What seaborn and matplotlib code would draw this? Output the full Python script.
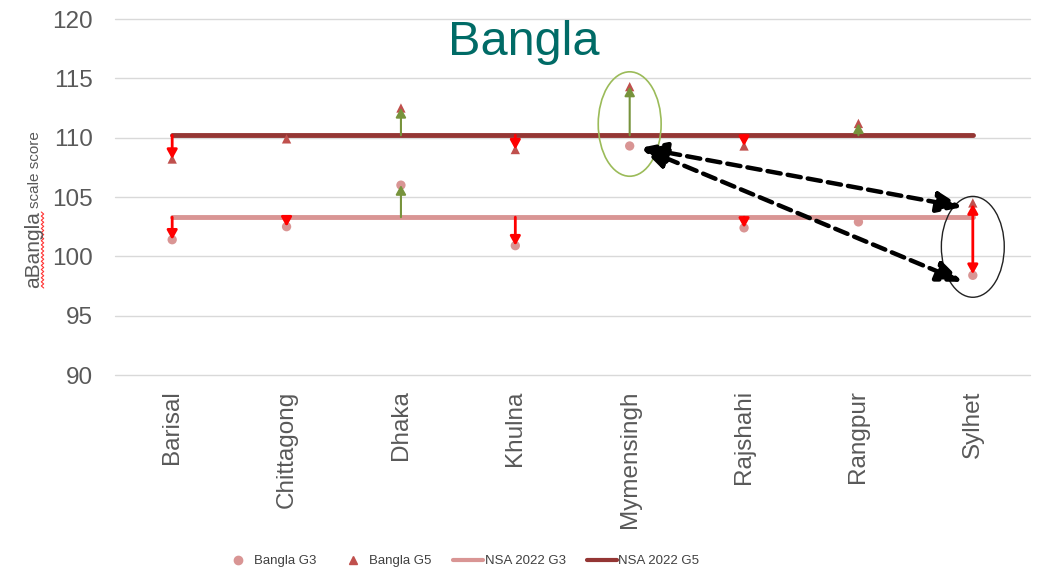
import numpy as np
import pandas as pd
import matplotlib
matplotlib.use("Agg")
import matplotlib.pyplot as plt
from matplotlib.patches import Ellipse
from matplotlib.lines import Line2D
import seaborn as sns

# ---- data -------------------------------------------------------------
regions = ["Barisal", "Chittagong", "Dhaka", "Khulna",
           "Mymensingh", "Rajshahi", "Rangpur", "Sylhet"]
bangla_g3 = [101.4, 102.5, 106.0, 100.9, 109.3, 102.4, 102.9, 98.4]
bangla_g5 = [108.2, 109.9, 112.5, 109.0, 114.3, 109.3, 111.2, 104.5]
nsa_g3 = 103.3
nsa_g5 = 110.2
yticks = [90, 95, 100, 105, 110, 115, 120]

# gaps from the national average that get an arrow: (region index, start, end, colour)
gap_arrows = [
    (0, nsa_g5, bangla_g5[0], "red"),
    (0, nsa_g3, bangla_g3[0], "red"),
    (1, nsa_g3, bangla_g3[1], "red"),
    (2, nsa_g5, bangla_g5[2], "green"),
    (2, nsa_g3, bangla_g3[2], "green"),
    (3, nsa_g5, bangla_g5[3], "red"),
    (3, nsa_g3, bangla_g3[3], "red"),
    (4, nsa_g5, bangla_g5[4], "green"),
    (5, nsa_g5, bangla_g5[5], "red"),
    (5, nsa_g3, bangla_g3[5], "red"),
    (6, nsa_g5, bangla_g5[6], "green"),
]

df = pd.DataFrame({"region": regions, "G3": bangla_g3, "G5": bangla_g5,
                   "NSA_G3": [nsa_g3] * len(regions),
                   "NSA_G5": [nsa_g5] * len(regions)})

# ---- style ------------------------------------------------------------
sns.set_style("white")
plt.rcParams["font.family"] = ["Liberation Sans", "DejaVu Sans"]

C_G3 = "#D99594"
C_G5 = "#C0504D"
C_NSA3 = "#D99594"
C_NSA5 = "#943634"
C_RED = "#FF0000"
C_GREEN = "#77933C"
C_TXT = "#595959"

fig = plt.figure(figsize=(10.43, 5.72), dpi=100)
ax = fig.add_axes([115 / 1043, 1 - 375 / 572, (1030 - 115) / 1043, (375 - 19) / 572])

x = np.arange(len(regions))

sns.lineplot(x=x, y=df["NSA_G3"], ax=ax, color=C_NSA3, lw=3.5,
             solid_capstyle="round", label="NSA 2022 G3", legend=False, zorder=2)
sns.lineplot(x=x, y=df["NSA_G5"], ax=ax, color=C_NSA5, lw=3.5,
             solid_capstyle="round", label="NSA 2022 G5", legend=False, zorder=2)
sns.scatterplot(x=x, y=df["G3"], ax=ax, marker="o", s=45, color=C_G3,
                edgecolor="none", label="Bangla G3", legend=False, zorder=3)
sns.scatterplot(x=x, y=df["G5"], ax=ax, marker="^", s=45, color=C_G5,
                edgecolor="none", label="Bangla G5", legend=False, zorder=3)

HEAD = "-|>,head_width=0.25,head_length=0.45"
HEAD2 = "<|-|>,head_width=0.25,head_length=0.45"

# arrows showing the gap to the national average
for i, y0, y1, col in gap_arrows:
    c = C_RED if col == "red" else C_GREEN
    lw = 2.0 if col == "red" else 1.5
    ax.annotate("", xy=(i, y1), xytext=(i, y0),
                arrowprops=dict(arrowstyle=HEAD, color=c, lw=lw,
                                shrinkA=0, shrinkB=0, mutation_scale=12),
                zorder=4)

# Sylhet: grade 5 to grade 3 spread
ax.annotate("", xy=(7, bangla_g3[7] + 0.1), xytext=(7, bangla_g5[7] - 0.1),
            arrowprops=dict(arrowstyle=HEAD2, color=C_RED, lw=2.0,
                            shrinkA=0, shrinkB=0, mutation_scale=12),
            zorder=4)

# highlight ellipses
ax.add_patch(Ellipse((4, 111.15), 0.55, 8.8, fill=False, ec="#9BBB59", lw=1.2, zorder=5))
ax.add_patch(Ellipse((7, 100.8), 0.55, 8.5, fill=False, ec="#222222", lw=1.0, zorder=5))

# dashed comparison arrows between Mymensingh and Sylhet
for (xe, ye) in [(6.91, 104.15), (6.91, 97.85)]:
    ax.annotate("", xy=(xe, ye), xytext=(4.1, 109.15),
                arrowprops=dict(arrowstyle="<|-|>,head_width=0.45,head_length=1.1",
                                color="black", lw=3.2, ls=(0, (3, 1.6)),
                                shrinkA=0, shrinkB=0, mutation_scale=14),
                zorder=6)

# ---- axes -------------------------------------------------------------
ax.set_xlim(-0.5, len(regions) - 0.5)
ax.set_ylim(90, 120)
ax.set_yticks(yticks)
ax.set_yticklabels([str(v) for v in yticks], fontsize=17.5, color=C_TXT)
ax.set_xticks(x)
ax.set_xticklabels(regions, rotation=90, fontsize=17.5, color=C_TXT)
ax.tick_params(axis="both", length=0)
ax.tick_params(axis="y", pad=16)
ax.tick_params(axis="x", pad=11)
ax.yaxis.grid(True, color="#D9D9D9", lw=1.0)
for gl in ax.get_ygridlines():
    gl.set_clip_on(False)
ax.set_axisbelow(True)
for s in ax.spines.values():
    s.set_visible(False)
ax.set_xlabel("")
ax.set_ylabel("")

# title
fig.text(524 / 1043, 1 - 55 / 572, "Bangla", fontsize=35, color="#006B66",
         ha="center", va="baseline")

# y-axis label in two sizes
fig.text(39 / 1043, 1 - 288 / 572, "aBangla", fontsize=15, color=C_TXT,
         rotation=90, rotation_mode="anchor", ha="left", va="baseline")
fig.text(39 / 1043, 1 - 208 / 572, "scale score", fontsize=11, color=C_TXT,
         rotation=90, rotation_mode="anchor", ha="left", va="baseline")
# spell-check squiggle under the label
yy = np.linspace(212, 288, 38)
xx = 42.5 + np.where(np.arange(len(yy)) % 2 == 0, -1.2, 1.2)
fig.add_artist(Line2D(xx / 1043, 1 - yy / 572, color="#FF3333", lw=0.8,
                      transform=fig.transFigure))

# legend
handles = [
    Line2D([], [], marker="o", ls="none", color=C_G3, markersize=6),
    Line2D([], [], marker="^", ls="none", color=C_G5, markersize=6),
    Line2D([], [], color=C_NSA3, lw=3),
    Line2D([], [], color=C_NSA5, lw=3),
]
labels = ["Bangla G3", "Bangla G5", "NSA 2022 G3", "NSA 2022 G5"]
fig.legend(handles, labels, loc="center", bbox_to_anchor=(461 / 1043, 1 - 561 / 572),
           ncol=4, frameon=False, fontsize=9.5, handlelength=2.3,
           handletextpad=0.1, columnspacing=1.6, labelcolor="#404040")

fig.savefig("out.png", dpi=100)
